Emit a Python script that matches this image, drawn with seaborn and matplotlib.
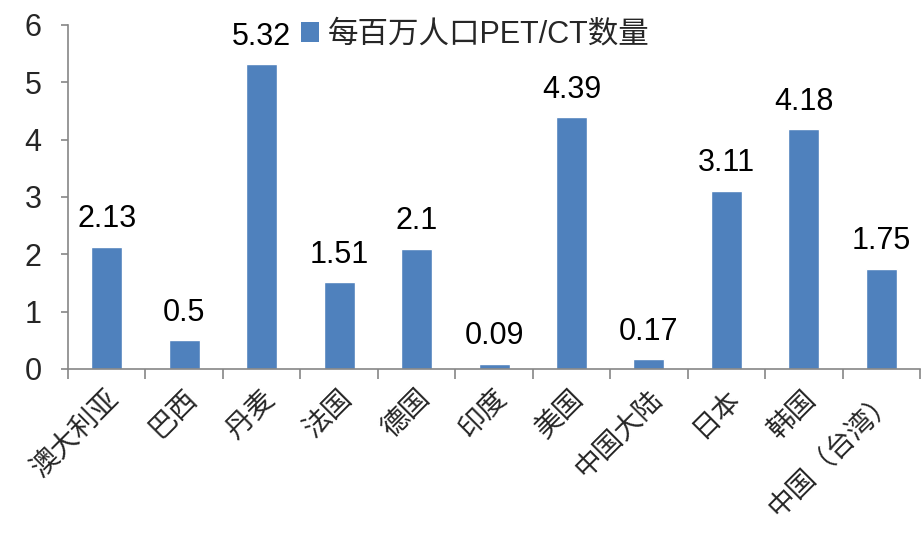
import matplotlib
matplotlib.use("Agg")
import matplotlib.pyplot as plt
import seaborn as sns
import pandas as pd
from matplotlib.ticker import FixedLocator
from matplotlib.patches import Patch

regions = ["澳大利亚", "巴西", "丹麦", "法国", "德国", "印度", "美国",
           "中国大陆", "日本", "韩国", "中国（台湾）"]
units_per_million = [2.13, 0.5, 5.32, 1.51, 2.1, 0.09, 4.39, 0.17, 3.11, 4.18, 1.75]
value_labels = ["2.13", "0.5", "5.32", "1.51", "2.1", "0.09", "4.39", "0.17", "3.11", "4.18", "1.75"]
series_name = "每百万人口PET/CT数量"
y_ticks = [0, 1, 2, 3, 4, 5, 6]

sns.set_style("white")
plt.rcParams["font.family"] = ["Liberation Sans", "Noto Sans CJK SC", "DejaVu Sans"]

bar_color = "#4F81BD"
axis_color = "#868686"

df = pd.DataFrame({"region": regions, "value": units_per_million})

fig = plt.figure(figsize=(9.21, 5.36), dpi=100)
ax = fig.add_axes([0.0738, 0.3116, 0.9252, 0.6418])

sns.barplot(data=df, x="region", y="value", color=bar_color, width=0.4,
            saturation=1, ax=ax)

ax.set_xlim(-0.5, len(regions) - 0.5)
ax.set_ylim(0, 6)
ax.set_xlabel("")
ax.set_ylabel("")

# value labels above the bars
for i, (v, t) in enumerate(zip(units_per_million, value_labels)):
    ax.annotate(t, (i, v), xytext=(0, 14), textcoords="offset points",
                ha="center", va="baseline", fontsize=22, color="black")

# axes styling
for side in ["top", "right"]:
    ax.spines[side].set_visible(False)
for side in ["left", "bottom"]:
    ax.spines[side].set_color(axis_color)
    ax.spines[side].set_linewidth(1.2)

ax.yaxis.set_major_locator(FixedLocator(y_ticks))
ax.set_yticklabels([str(t) for t in y_ticks], fontsize=22)
ax.tick_params(axis="y", which="major", direction="out", length=5, width=1.2,
               color=axis_color, pad=14, left=True)

ax.set_xticks(range(len(regions)))
ax.set_xticklabels(regions, rotation=45, ha="right", rotation_mode="anchor",
                   fontsize=20)
ax.tick_params(axis="x", which="major", length=0, pad=12)
ax.xaxis.set_minor_locator(FixedLocator([i - 0.5 for i in range(len(regions) + 1)]))
ax.tick_params(axis="x", which="minor", direction="out", length=7, width=1.2,
               color=axis_color, bottom=True)

handle = Patch(facecolor=bar_color, edgecolor="none")
ax.legend([handle], [series_name], loc="center", bbox_to_anchor=(0.478, 0.972),
          frameon=False, fontsize=22, handlelength=0.6, handleheight=0.6,
          handletextpad=0.3, borderpad=0)

fig.savefig("out.png", dpi=100)
